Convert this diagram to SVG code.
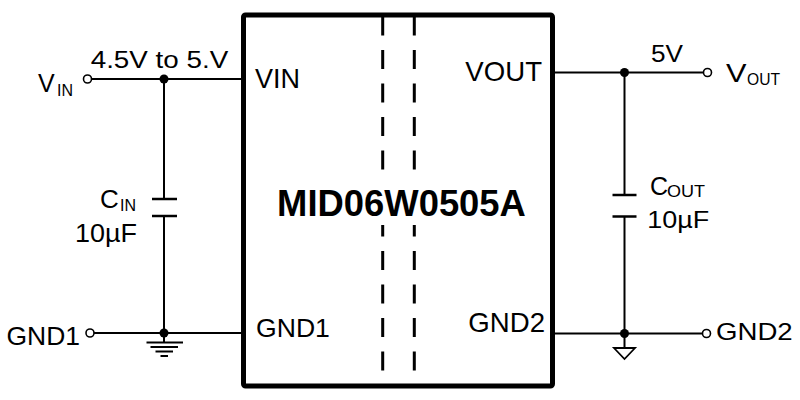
<svg xmlns="http://www.w3.org/2000/svg" width="800" height="400" viewBox="0 0 800 400">
<style>
.w{stroke:#000;stroke-width:2;fill:none}
.plate{stroke:#000;stroke-width:2.5;fill:none}
.oc{stroke:#000;stroke-width:1.6;fill:#fff}
.dot{fill:#000}
.t{font-family:"Liberation Sans",Arial,sans-serif;fill:#000}
.dash{stroke:#000;stroke-width:3;stroke-dasharray:19 14.5;fill:none}
</style>
<rect width="800" height="400" fill="#fff"/>
<g id="connectors">
  <line class="w" x1="91.5" y1="79" x2="243" y2="79"/>
  <line class="w" x1="164" y1="79" x2="164" y2="199"/>
  <line class="w" x1="164" y1="216" x2="164" y2="333"/>
  <line class="w" x1="94" y1="333" x2="243" y2="333"/>
  <line class="w" x1="164" y1="333" x2="164" y2="342.5"/>
  <line class="w" x1="553" y1="72.5" x2="703.5" y2="72.5"/>
  <line class="w" x1="624.5" y1="72.5" x2="624.5" y2="195"/>
  <line class="w" x1="624.5" y1="216.5" x2="624.5" y2="333.5"/>
  <line class="w" x1="553" y1="333.5" x2="702.5" y2="333.5"/>
  <line class="w" x1="624.5" y1="333.5" x2="624.5" y2="348"/>
</g>
<g id="ic">
  <rect x="243.5" y="15" width="309" height="371" rx="2" fill="#fff" stroke="#000" stroke-width="5"/>
  <line class="dash" x1="382.7" y1="16.5" x2="382.7" y2="384"/>
  <line class="dash" x1="414.3" y1="16.5" x2="414.3" y2="384"/>
  <rect x="272" y="172" width="260" height="53" fill="#fff"/>
  <text class="t" x="401.5" y="215.5" font-size="36.4" font-weight="bold" text-anchor="middle">MID06W0505A</text>
  <text class="t" x="255" y="88" font-size="27">VIN</text>
  <text class="t" x="542" y="80.5" font-size="27.6" text-anchor="end">VOUT</text>
  <text class="t" x="256" y="336.5" font-size="26.6">GND1</text>
  <text class="t" x="545" y="331.5" font-size="27.6" text-anchor="end">GND2</text>
</g>
<g id="vin">
  <circle class="oc" cx="87.5" cy="79" r="4"/>
  <text class="t" x="38" y="91.5" font-size="25">V</text>
  <text class="t" x="57" y="95.5" font-size="16">IN</text>
  <text class="t" x="90.7" y="68" font-size="23" textLength="137.5" lengthAdjust="spacingAndGlyphs">4.5V to 5.V</text>
  <circle class="dot" cx="164" cy="79" r="4.5"/>
</g>
<g id="cin">
  <line class="plate" x1="152" y1="199" x2="177" y2="199"/>
  <line class="plate" x1="152" y1="216" x2="177" y2="216"/>
  <text class="t" x="100" y="208" font-size="26">C</text>
  <text class="t" x="120" y="210.5" font-size="16">IN</text>
  <text class="t" x="75" y="241.5" font-size="25.5" textLength="62" lengthAdjust="spacingAndGlyphs">10µF</text>
</g>
<g id="gnd1">
  <circle class="oc" cx="90" cy="333" r="4"/>
  <text class="t" x="6.5" y="345" font-size="26" textLength="73.5" lengthAdjust="spacingAndGlyphs">GND1</text>
  <circle class="dot" cx="164" cy="333" r="4.5"/>
  <g class="w" stroke-width="1.8">
    <line x1="146.5" y1="342.5" x2="183" y2="342.5"/>
    <line x1="150.5" y1="347" x2="178" y2="347"/>
    <line x1="155.5" y1="351.5" x2="173" y2="351.5"/>
    <line x1="160.5" y1="356" x2="168" y2="356"/>
  </g>
</g>
<g id="vout">
  <circle class="dot" cx="624.5" cy="72.5" r="4.5"/>
  <circle class="oc" cx="707.5" cy="72.5" r="4"/>
  <text class="t" x="651" y="61.7" font-size="23" textLength="32" lengthAdjust="spacingAndGlyphs">5V</text>
  <text class="t" x="726" y="81.5" font-size="25" textLength="20.5" lengthAdjust="spacingAndGlyphs">V</text>
  <text class="t" x="747" y="85" font-size="16.5" textLength="33" lengthAdjust="spacingAndGlyphs">OUT</text>
</g>
<g id="cout">
  <line class="plate" x1="612.5" y1="195" x2="636.5" y2="195"/>
  <line class="plate" x1="612.5" y1="216.5" x2="636.5" y2="216.5"/>
  <text class="t" x="650" y="195" font-size="25">C</text>
  <text class="t" x="667" y="197" font-size="16" textLength="38" lengthAdjust="spacingAndGlyphs">OUT</text>
  <text class="t" x="647.3" y="228.3" font-size="23" textLength="62" lengthAdjust="spacingAndGlyphs">10µF</text>
</g>
<g id="gnd2">
  <circle class="dot" cx="624.5" cy="333.5" r="4.5"/>
  <circle class="oc" cx="706.5" cy="333.5" r="4"/>
  <text class="t" x="716" y="340" font-size="24" textLength="76.7" lengthAdjust="spacingAndGlyphs">GND2</text>
  <polygon points="614,348 635,348 624.5,359" fill="none" stroke="#000" stroke-width="1.8" stroke-linejoin="miter"/>
</g>
</svg>
